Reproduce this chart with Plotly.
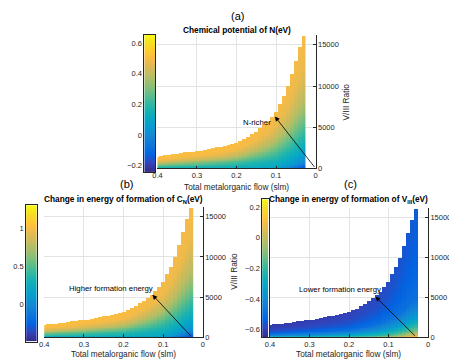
import numpy as np
import plotly.graph_objects as go

# ---------------- data ----------------
flow_slm = [0.03, 0.04, 0.05, 0.06, 0.07, 0.08, 0.09, 0.10, 0.11, 0.12,
            0.13, 0.14, 0.15, 0.16, 0.17, 0.18, 0.19, 0.20, 0.21, 0.22,
            0.23, 0.24, 0.25, 0.26, 0.27, 0.28, 0.29, 0.30, 0.31, 0.32,
            0.33, 0.34, 0.35, 0.36, 0.37, 0.38, 0.39, 0.40]
v3_max = [16100, 14700, 13100, 11500, 10000, 8800, 7900, 6900, 6300, 5700,
          5300, 4900, 4500, 4200, 3900, 3600, 3350, 3100, 2980, 2870,
          2760, 2660, 2570, 2480, 2400, 2320, 2240, 2150, 2080, 2010,
          1950, 1890, 1830, 1770, 1710, 1650, 1590, 1530]

anchor_flow = [0.03, 0.10, 0.20, 0.40]
anchor_frac = [0.0, 0.05, 0.15, 0.30, 0.50, 0.75, 1.0]
mu_N = [[-0.171, 0.080, 0.098, 0.116],
        [0.008, 0.116, 0.134, 0.152],
        [0.116, 0.161, 0.179, 0.206],
        [0.241, 0.250, 0.268, 0.295],
        [0.385, 0.385, 0.403, 0.430],
        [0.475, 0.475, 0.493, 0.502],
        [0.493, 0.493, 0.502, 0.511]]
dE_CN = [[-0.338, 0.161, 0.196, 0.232],
         [0.018, 0.232, 0.268, 0.303],
         [0.232, 0.321, 0.357, 0.410],
         [0.481, 0.499, 0.535, 0.588],
         [0.766, 0.766, 0.802, 0.855],
         [0.944, 0.944, 0.980, 0.997],
         [0.980, 0.980, 0.997, 1.015]]
dE_VIII = [[0.124, -0.092, -0.201, -0.273],
           [-0.128, -0.219, -0.273, -0.327],
           [-0.354, -0.363, -0.399, -0.435],
           [-0.498, -0.489, -0.507, -0.534],
           [-0.525, -0.543, -0.561, -0.579],
           [-0.543, -0.570, -0.588, -0.606],
           [-0.552, -0.579, -0.597, -0.615]]

x_ticks = [0, 0.1, 0.2, 0.3, 0.4]
x_ticktext = ["0", "0.1", "0.2", "0.3", "0.4"]
y_ticks = [0, 5000, 10000, 15000]
y_ticktext = ["0", "5000", "10000", "15000"]

cb_range_a = [-0.243, 0.654]
cb_ticks_a = [-0.2, 0, 0.2, 0.4, 0.6]
cb_range_b = [-0.48, 1.30]
cb_ticks_b = [0, 0.5, 1]
cb_range_c = [-0.651, 0.25]
cb_ticks_c = [-0.6, -0.4, -0.2, 0, 0.2]

titles = ["<b>Chemical potential of N(eV)</b>",
          "<b>Change in energy of formation of C<sub>N</sub>(eV)</b>",
          "<b>Change in energy of formation of V<sub>III</sub>(eV)</b>"]
panel_tags = ["(a)", "(b)", "(c)"]
notes = ["N-richer", "Higher formation energy", "Lower formation energy"]

# ---------------- styling ----------------
W, H = 457, 359
FONT = "Liberation Sans, Arial, sans-serif"
AX = "#262626"
GRID = "#e3e3e3"
parula = [[0.0, "#352a87"], [0.0635, "#3243ba"], [0.127, "#0363e1"],
          [0.19, "#0d75dc"], [0.254, "#1485d4"], [0.317, "#0998d1"],
          [0.381, "#06a7c6"], [0.444, "#15b1b4"], [0.508, "#38b99e"],
          [0.571, "#65be86"], [0.635, "#92bf73"], [0.698, "#b7bd64"],
          [0.762, "#d9ba56"], [0.825, "#f8bb44"], [0.857, "#ffc337"],
          [0.889, "#fcce2e"], [0.952, "#f5e41d"], [1.0, "#f9fb0e"]]


def dx(p0, p1):
    return [p0 / W, p1 / W]


def dy(top, bot):
    return [1 - bot / H, 1 - top / H]


rows = [float(v) for v in np.arange(50, 16200, 100)]


def field(table):
    tab = np.array(table, dtype=float)
    out = []
    for v in rows:
        line = []
        for f, top in zip(flow_slm, v3_max):
            if v > top:
                line.append(None)
                continue
            r = v / top
            col = [np.interp(r, anchor_frac, tab[:, j]) for j in range(len(anchor_flow))]
            line.append(float(np.interp(f, anchor_flow, col)))
        out.append(line)
    return out


panels = [
    dict(vals=mu_N, cr=cb_range_a, ct=cb_ticks_a,
         px=(146.7, 307.3), py=(27.3, 162.7), cx=(133.3, 144.3), cy=(27.3, 166.7)),
    dict(vals=dE_CN, cr=cb_range_b, ct=cb_ticks_b,
         px=(31.7, 192.7), py=(202.0, 334.0), cx=(13.3, 24.0), cy=(200.0, 338.3)),
    dict(vals=dE_VIII, cr=cb_range_c, ct=cb_ticks_c,
         px=(261.0, 421.5), py=(203.0, 334.0), cx=(253.0, 259.5), cy=(194.0, 334.0)),
]

fig = go.Figure()
layout = dict(width=W, height=H, margin=dict(l=0, r=0, t=0, b=0),
              paper_bgcolor="white", plot_bgcolor="white", showlegend=False,
              font=dict(family=FONT, size=8, color=AX))
annotations = []

for i, p in enumerate(panels):
    k = i + 1
    xs = "" if k == 1 else str(k)
    kc = k + 3
    fig.add_trace(go.Heatmap(x=flow_slm, y=rows, z=field(p["vals"]),
                             colorscale=parula, zmin=p["cr"][0], zmax=p["cr"][1],
                             zauto=False, showscale=False, hoverinfo="skip",
                             xaxis="x" + xs, yaxis="y" + xs))
    layout["xaxis" + xs] = dict(domain=dx(*p["px"]), range=[0.4, 0], anchor="y" + xs,
                                type="linear",
                                tickvals=x_ticks, ticktext=x_ticktext, ticks="inside",
                                ticklen=3, tickcolor=AX, showline=True, linecolor=AX,
                                linewidth=0.8, showgrid=True, gridcolor=GRID,
                                gridwidth=0.8, zeroline=False,
                                tickfont=dict(size=7.5, color=AX, family=FONT))
    layout["yaxis" + xs] = dict(domain=dy(*p["py"]), range=[0, 16200], anchor="x" + xs,
                                type="linear",
                                side="right", tickvals=y_ticks, ticktext=y_ticktext,
                                ticks="inside", ticklen=3, tickcolor=AX, showline=True,
                                linecolor=AX, linewidth=0.8, showgrid=True,
                                gridcolor=GRID, gridwidth=0.8, zeroline=False,
                                tickfont=dict(size=7.5, color=AX, family=FONT))
    # colour bar (left of the plot): a ramp over the colour range
    c0, c1 = p["cr"]
    edges = [c0 + (c1 - c0) * j / 200 for j in range(201)]
    mids = [[(edges[j] + edges[j + 1]) / 2] for j in range(200)]
    fig.add_trace(go.Heatmap(x=[0.0, 1.0], y=edges, z=mids,
                             colorscale=parula, zmin=c0, zmax=c1, zauto=False,
                             showscale=False, hoverinfo="skip",
                             xaxis="x%d" % kc, yaxis="y%d" % kc))
    layout["xaxis%d" % kc] = dict(domain=dx(*p["cx"]), range=[0, 1], anchor="y%d" % kc,
                                  type="linear",
                                  showticklabels=False, ticks="", showgrid=False,
                                  zeroline=False, showline=True, mirror=True,
                                  linecolor=AX, linewidth=0.6)
    layout["yaxis%d" % kc] = dict(domain=dy(*p["cy"]), range=[c0, c1], anchor="x%d" % kc,
                                  type="linear",
                                  side="left", tickvals=p["ct"], ticks="",
                                  showgrid=False, zeroline=False, showline=True,
                                  mirror=True, linecolor=AX, linewidth=0.6,
                                  tickfont=dict(size=7.5, color=AX, family=FONT))


def ptxt(x, y, text, size, color=AX, **kw):
    annotations.append(dict(x=x / W, y=1 - y / H, xref="paper", yref="paper",
                            text=text, showarrow=False, xanchor="center",
                            yanchor="middle",
                            font=dict(size=size, family=FONT, color=color), **kw))


ptxt(228, 8, panel_tags[0], 11, color="#000000")
ptxt(115, 178, panel_tags[1], 11, color="#000000")
ptxt(343, 178, panel_tags[2], 11, color="#000000")
ptxt(227, 22.5, titles[0], 8.3, color="#000000")
ptxt(112, 194, titles[1], 8.3, color="#000000")
ptxt(341, 194, titles[2], 8.3, color="#000000")
ptxt(227, 181.5, "Total metalorganic flow (slm)", 8.3)
ptxt(112, 351, "Total metalorganic flow (slm)", 8.3)
ptxt(341, 351, "Total metalorganic flow (slm)", 8.3)
ptxt(338, 95, "V/III Ratio", 8.3, textangle=-90)
ptxt(225, 267, "V/III Ratio", 8.3, textangle=-90)
ptxt(447, 267, "V/III Ratio", 8.3, textangle=-90)

# arrows and their notes (data coordinates)
arrows = [("x", "y", 0.103, 6300, 0.0, 0, 0.1475, 5600, notes[0]),
          ("x2", "y2", 0.127, 5300, 0.027, 0, 0.232, 6050, notes[1]),
          ("x3", "y3", 0.133, 5100, 0.029, 0, 0.224, 6050, notes[2])]
for xr, yr, hx, hy, tx, ty, lx, ly, txt in arrows:
    annotations.append(dict(x=hx, y=hy, ax=tx, ay=ty, xref=xr, yref=yr,
                            axref=xr, ayref=yr, showarrow=True, arrowhead=2,
                            arrowsize=1.2, arrowwidth=0.8, arrowcolor="#000000",
                            text=""))
    annotations.append(dict(x=lx, y=ly, xref=xr, yref=yr, text=txt, showarrow=False,
                            xanchor="center", yanchor="middle",
                            font=dict(size=7.8, family=FONT, color="#000000")))

layout["annotations"] = annotations
fig.update_layout(**layout)
fig.write_html("out.html")
